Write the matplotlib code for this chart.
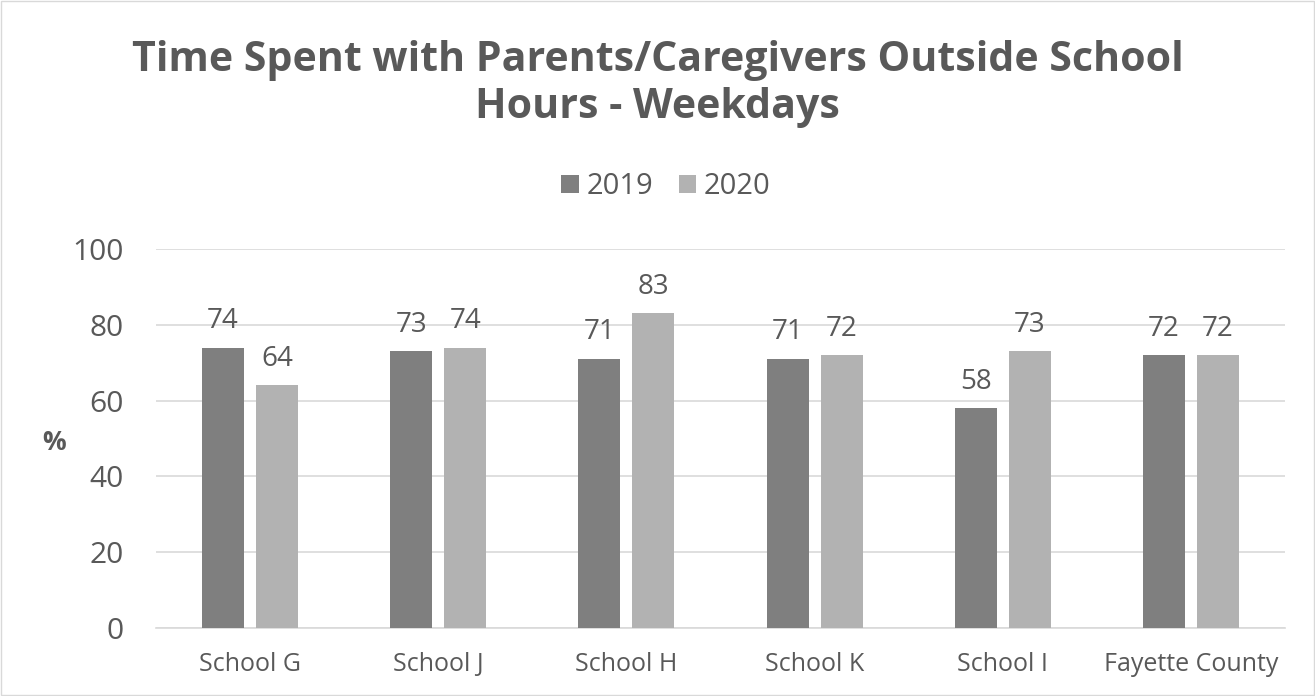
import matplotlib
matplotlib.use("Agg")
import matplotlib.pyplot as plt
import numpy as np

categories = ["School G", "School J", "School H", "School K", "School I", "Fayette County"]
series_names = ["2019", "2020"]
values_2019 = [74, 73, 71, 71, 58, 72]
values_2020 = [64, 74, 83, 72, 73, 72]
yticks = [0, 20, 40, 60, 80, 100]

FONT = ["Open Sans", "DejaVu Sans"]
TXT = "#595959"
C19 = "#7f7f7f"
C20 = "#b2b2b2"

fig = plt.figure(figsize=(13.15, 6.96), dpi=100)
fig.patch.set_facecolor("white")
ax = fig.add_axes([156/1315, 68/696, 1129/1315, 379/696])

x = np.arange(len(categories))
bw = 0.223
off = 0.1435
b1 = ax.bar(x - off, values_2019, bw, color=C19, label=series_names[0], zorder=3)
b2 = ax.bar(x + off, values_2020, bw, color=C20, label=series_names[1], zorder=3)

for bars in (b1, b2):
    for r in bars:
        ax.annotate(f"{int(r.get_height())}", (r.get_x() + r.get_width()/2, r.get_height()),
                    xytext=(0, 9), textcoords="offset points", ha="center", va="bottom",
                    fontsize=20, color=TXT, family=FONT)

ax.set_xlim(-0.5, len(categories) - 0.5)
ax.set_ylim(0, 100)
ax.set_yticks(yticks)
ax.set_yticklabels([str(t) for t in yticks], fontsize=21.5, color=TXT, family=FONT)
ax.set_xticks(x)
ax.set_xticklabels(categories, fontsize=18, color=TXT, family=FONT)
ax.tick_params(axis="both", length=0)
ax.tick_params(axis="y", pad=23)
ax.tick_params(axis="x", pad=17)
ax.yaxis.grid(True, color="#d9d9d9", linewidth=1.2, zorder=0)
for s in ["top", "right", "left"]:
    ax.spines[s].set_visible(False)
ax.spines["bottom"].set_color("#d9d9d9")
ax.spines["bottom"].set_linewidth(1.2)

fig.text(54/1315, 1 - 443/696, "%", fontsize=19, fontweight="bold", color=TXT,
         family=FONT, ha="center", va="center")

fig.text(0.5, 1 - 84/696, "Time Spent with Parents/Caregivers Outside School\nHours - Weekdays",
         fontsize=29.6, fontweight="bold", color=TXT, family=FONT, ha="center", va="center",
         linespacing=1.22)

leg = fig.legend(handles=[b1, b2], labels=series_names, loc="center",
                 bbox_to_anchor=(666/1315, 1 - 187/696), ncol=2, frameon=False,
                 handlelength=0.59, handleheight=0.59, handletextpad=0.28,
                 columnspacing=0.86, borderpad=0, prop={"family": FONT, "size": 21})
for t in leg.get_texts():
    t.set_color(TXT)

border = plt.Rectangle((0.001, 0.001), 0.998, 0.998, transform=fig.transFigure,
                       fill=False, edgecolor="#d9d9d9", linewidth=1)
fig.patches.append(border)

fig.savefig("out.png", dpi=100, facecolor="white")
